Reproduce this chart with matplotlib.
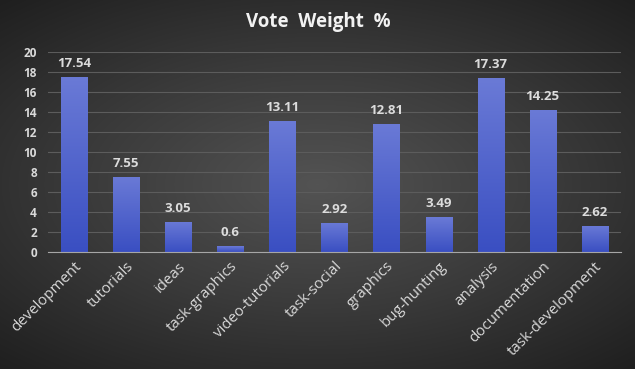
import numpy as np
import matplotlib.pyplot as plt
from matplotlib.colors import LinearSegmentedColormap

categories = ['development', 'tutorials', 'ideas', 'task-graphics', 'video-tutorials',
              'task-social', 'graphics', 'bug-hunting', 'analysis', 'documentation',
              'task-development']
weights = [17.54, 7.55, 3.05, 0.6, 13.11, 2.92, 12.81, 3.49, 17.37, 14.25, 2.62]
labels = ['17.54', '7.55', '3.05', '0.6', '13.11', '2.92', '12.81', '3.49', '17.37', '14.25', '2.62']

plt.rcParams['font.family'] = ['Open Sans', 'DejaVu Sans']

fig = plt.figure(figsize=(6.35, 3.69), dpi=100)

# radial background
bg = fig.add_axes([0, 0, 1, 1], zorder=-10)
yy, xx = np.mgrid[-1:1:369j, -1:1:635j]
r = np.sqrt((xx * 0.9) ** 2 + (yy * 1.0) ** 2)
bgcmap = LinearSegmentedColormap.from_list('bg', ['#535353', '#3a3a3a', '#1f1f1f'])
bg.imshow(r, cmap=bgcmap, vmin=0, vmax=1.35, aspect='auto', extent=[0, 1, 0, 1])
bg.axis('off')

ax = fig.add_axes([0.0756, 0.317, 0.902, 0.542])
ax.patch.set_alpha(0)
x = np.arange(len(categories))
bars = ax.bar(x, weights, width=0.5, color='#4a5fcc', zorder=3)

barcmap = LinearSegmentedColormap.from_list('bar', ['#3a4fc2', '#6a7ad6'])
grad = np.linspace(0, 1, 100).reshape(-1, 1)
for b in bars:
    bx, bw, bh = b.get_x(), b.get_width(), b.get_height()
    im = ax.imshow(grad, cmap=barcmap, origin='lower', aspect='auto',
                   extent=[bx, bx + bw, 0, bh], zorder=4)
    im.set_clip_path(b)
    b.set_facecolor('none')

for xi, v, lab in zip(x, weights, labels):
    ax.text(xi, v + 0.7, lab, ha='center', va='bottom', fontsize=9.5,
            fontweight='bold', color='#dcdcdc', zorder=5)

ax.set_xlim(-0.5, len(categories) - 0.5)
ax.set_ylim(0, 20)
ax.set_yticks(np.arange(0, 21, 2))
ax.yaxis.grid(True, color='#5c5c5c', lw=0.8, zorder=0)
ax.set_axisbelow(True)
for s in ['top', 'right', 'left']:
    ax.spines[s].set_visible(False)
ax.spines['bottom'].set_color('#a6a6a6')
ax.spines['bottom'].set_zorder(6)
ax.tick_params(length=0, colors='#d9d9d9', labelsize=8.5)
ax.tick_params(axis='y', pad=8)
ax.set_xticks(x)
ax.set_xticklabels(categories, rotation=45, ha='right', rotation_mode='anchor',
                   fontsize=10.8, color='#d9d9d9')
ax.tick_params(axis='x', pad=5)
for t in ax.get_yticklabels():
    t.set_fontweight('bold')

fig.text(0.501, 0.94, 'Vote  Weight  %', ha='center', va='center', fontsize=13.5,
         fontweight='bold', color='#f2f2f2')

fig.savefig('out.png', dpi=100)
